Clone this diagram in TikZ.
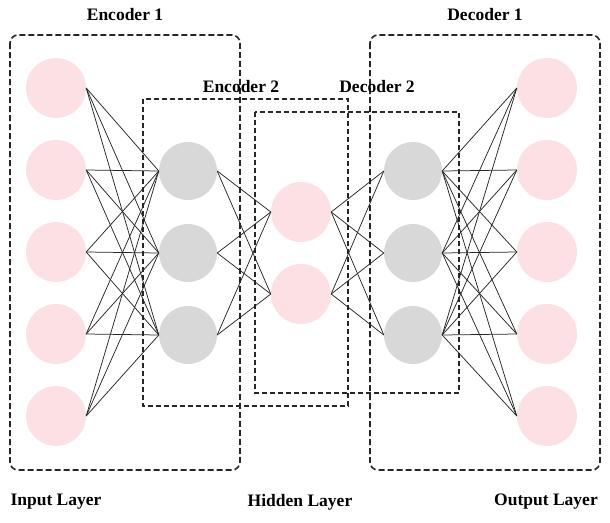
\documentclass[tikz,border=0pt]{standalone}
\usepackage{fontspec}
\setmainfont{Liberation Serif}
\begin{document}
\begin{tikzpicture}[x=1pt,y=-1pt,
  pinknode/.style={circle,fill=nodepink,draw=none,minimum size=60pt,inner sep=0pt},
  graynode/.style={circle,fill=nodegray,draw=none,minimum size=58pt,inner sep=0pt},
  edge/.style={draw=black!85,line width=0.75pt},
  bigbox/.style={draw=black!85,line width=1.6pt,dash pattern=on 6pt off 3pt,rounded corners=8pt},
  smallbox/.style={draw=black!85,line width=1.2pt,dash pattern=on 5pt off 3pt},
  lbl/.style={font=\bfseries\fontsize{17.5}{20}\selectfont,inner sep=0pt}]
\definecolor{nodepink}{RGB}{253,224,227}
\definecolor{nodegray}{RGB}{216,216,216}
\useasboundingbox (0,0) rectangle (610,522);
% boxes
\draw[bigbox] (10,35) rectangle (240,470);
\draw[bigbox] (370,35) rectangle (600,470);
\draw[smallbox] (143,99) rectangle (348,406);
\draw[smallbox] (255,112) rectangle (459,393);
% nodes
\foreach \i/\y in {1/88,2/170,3/252,4/334,5/416}{
  \node[pinknode] (in\i) at (56,\y) {};
  \node[pinknode] (out\i) at (547,\y) {};
}
\foreach \i/\y in {1/171,2/253,3/335}{
  \node[graynode] (ea\i) at (188,\y) {};
  \node[graynode] (da\i) at (413,\y) {};
}
\node[pinknode] (h1) at (301,212) {};
\node[pinknode] (h2) at (301,294) {};
% edges
\foreach \i in {1,...,5}{
  \foreach \j in {1,2,3}{
    \draw[edge] (in\i.east) -- (ea\j.west);
    \draw[edge] (da\j.east) -- (out\i.west);
  }
}
\foreach \j in {1,2,3}{
  \foreach \k in {1,2}{
    \draw[edge] (ea\j.east) -- (h\k.west);
    \draw[edge] (h\k.east) -- (da\j.west);
  }
}
% labels
\node[lbl] (le1) at (125,15) {Encoder 1};
\node[lbl] (ld1) at (485,15) {Decoder 1};
\node[lbl] (le2) at (241,87) {Encoder 2};
\node[lbl] (ld2) at (377,87) {Decoder 2};
\node[lbl] (lin) at (56,502) {Input Layer};
\node[lbl] (lhid) at (300,502) {Hidden Layer};
\node[lbl] (lout) at (546,502) {Output Layer};
\end{tikzpicture}
\end{document}
